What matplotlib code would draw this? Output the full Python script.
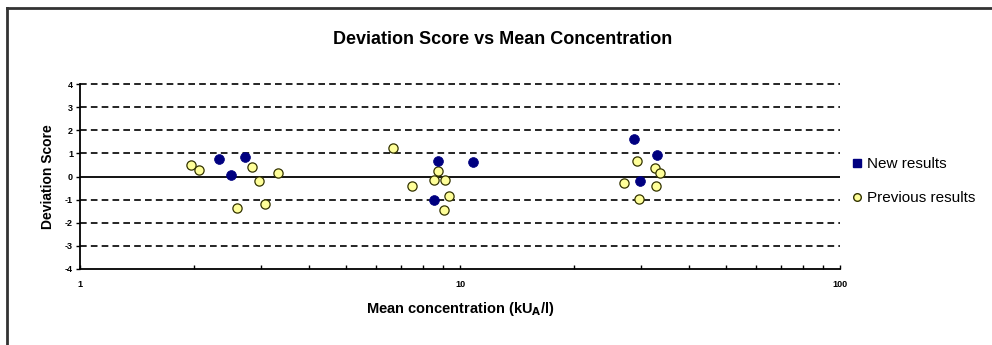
import matplotlib
matplotlib.use('Agg')
import matplotlib.pyplot as plt
from matplotlib.lines import Line2D
from matplotlib.ticker import LogLocator, NullFormatter, FixedLocator

plt.rcParams['font.family'] = ['Liberation Sans', 'DejaVu Sans']

# New results
new_conc = [2.32, 2.50, 2.71, 8.73, 10.8, 8.56, 28.7, 32.9, 29.8]
new_score = [0.77, 0.07, 0.84, 0.69, 0.62, -1.00, 1.63, 0.94, -0.20]

# Previous results
prev_conc = [1.96, 2.06, 2.59, 2.84, 2.96, 3.06, 3.32,
             6.67, 8.77, 7.49, 8.54, 9.13, 9.35, 9.10,
             29.3, 32.6, 33.7, 27.0, 32.8, 29.6]
prev_score = [0.51, 0.29, -1.37, 0.40, -0.20, -1.21, 0.16,
              1.22, 0.25, -0.40, -0.17, -0.13, -0.83, -1.47,
              0.66, 0.36, 0.16, -0.26, -0.39, -0.97]

x_ticks = [1, 10, 100]
x_labels = ['1', '10', '100']
y_ticks = [-4, -3, -2, -1, 0, 1, 2, 3, 4]

fig = plt.figure(figsize=(9.92, 3.45), dpi=100)
ax = fig.add_axes([80 / 992, 1 - 269 / 345, 760 / 992, 185 / 345])

# gridlines
for y in y_ticks:
    if y == 0:
        ax.axhline(y, color='black', lw=1.3, zorder=1)
    elif y != -4:
        ax.axhline(y, color='black', lw=1.2, ls=(0, (4, 2.5)), zorder=1,
                   clip_on=False)

ax.scatter(prev_conc, prev_score, marker='o', s=44, c='#ffff99',
           edgecolors='#333300', linewidths=0.9, zorder=3)
ax.scatter(new_conc, new_score, marker='o', s=50, c='#000080',
           edgecolors='#000080', linewidths=0.5, zorder=4)

ax.set_xscale('log')
ax.set_xlim(1, 100)
ax.set_ylim(-4, 4)
ax.xaxis.set_major_locator(FixedLocator(x_ticks))
ax.set_xticklabels(x_labels)
ax.xaxis.set_minor_locator(LogLocator(base=10, subs=range(2, 10)))
ax.xaxis.set_minor_formatter(NullFormatter())
ax.set_yticks(y_ticks)
ax.set_yticklabels([str(y) for y in y_ticks])

for s in ['top', 'right']:
    ax.spines[s].set_visible(False)
for s in ['left', 'bottom']:
    ax.spines[s].set_linewidth(1.3)

ax.tick_params(axis='x', which='both', direction='in', length=3, width=1,
               labelsize=6.5, pad=8)
ax.tick_params(axis='y', direction='out', length=3, width=1, labelsize=6.5, pad=2)
for lab in ax.get_xticklabels() + ax.get_yticklabels():
    lab.set_fontweight('bold')

ax.set_xlabel(r'Mean concentration (kU$_\mathbf{A}$/l)', fontsize=10.5,
              fontweight='bold', labelpad=8)
ax.set_ylabel('Deviation Score', fontsize=10, fontweight='bold', labelpad=7)

fig.text(503 / 992, 1 - 39 / 345, 'Deviation Score vs Mean Concentration',
         ha='center', va='center', fontsize=13, fontweight='bold')

handles = [
    Line2D([], [], ls='none', marker='s', ms=5.5, mfc='#000080', mec='#000080'),
    Line2D([], [], ls='none', marker='o', ms=5.5, mfc='#ffff99', mec='#333300'),
]
fig.legend(handles, ['New results', 'Previous results'], loc='center left',
           bbox_to_anchor=(836 / 992, 1 - 181 / 345), frameon=False,
           fontsize=11, handletextpad=0.1, labelspacing=1.3, handlelength=1.0)

# outer chart-area border (only top and left edges visible)
fig.add_artist(Line2D([7 / 992, 7 / 992], [0, 1 - 8 / 345], color='#333333', lw=2,
                      transform=fig.transFigure))
fig.add_artist(Line2D([7 / 992, 1], [1 - 8 / 345, 1 - 8 / 345], color='#333333', lw=2,
                      transform=fig.transFigure))

fig.savefig('out.png', dpi=100)
